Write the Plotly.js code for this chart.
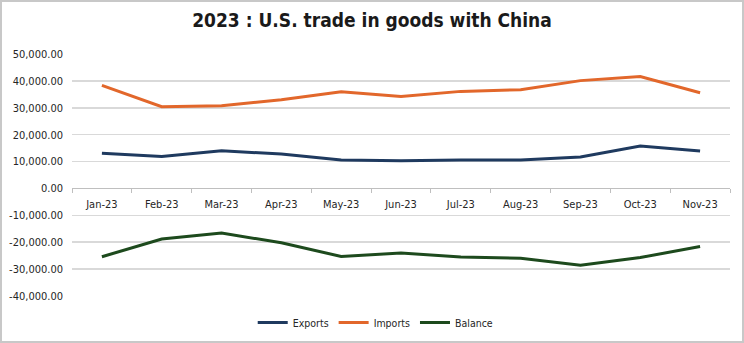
<!DOCTYPE html>
<html>
<head>
<meta charset="utf-8">
<script src="https://cdn.plot.ly/plotly-3.0.1.min.js"></script>
<style>
  html, body { margin: 0; padding: 0; background: #fff; }
  #wrap { position: relative; width: 744px; height: 343px; }
  #chart { width: 744px; height: 343px; }
  #frame { position: absolute; left: 0; top: 0; width: 744px; height: 343px; box-sizing: border-box;
           border: 2px solid #c8c8c8; pointer-events: none; }
</style>
</head>
<body>
<div id="wrap"><div id="chart"></div><div id="frame"></div></div>
<script>
const months = ["Jan-23","Feb-23","Mar-23","Apr-23","May-23","Jun-23","Jul-23","Aug-23","Sep-23","Oct-23","Nov-23"];
const exportsVals = [13100, 11900, 14000, 12800, 10600, 10300, 10600, 10600, 11700, 15800, 13900];
const importsVals = [38300, 30400, 30800, 33000, 36000, 34200, 36100, 36700, 40100, 41600, 35600];
const balanceVals = [-25400, -18800, -16600, -20200, -25300, -24000, -25500, -26000, -28600, -25700, -21600];
const yTickVals = [50000, 40000, 30000, 20000, 10000, 0, -10000, -20000, -30000, -40000];
const yTickText = ["50,000.00","40,000.00","30,000.00","20,000.00","10,000.00","0.00","-10,000.00","-20,000.00","-30,000.00","-40,000.00"];

const FONT = '"DejaVu Sans Condensed", "Liberation Sans Narrow", "Roboto", sans-serif';

const traces = [
  {x: months, y: exportsVals, name: "Exports", type: "scatter", mode: "lines",
   line: {color: "#1f3a5f", width: 3}},
  {x: months, y: importsVals, name: "Imports", type: "scatter", mode: "lines",
   line: {color: "#e2672b", width: 3}},
  {x: months, y: balanceVals, name: "Balance", type: "scatter", mode: "lines",
   line: {color: "#1d4a1d", width: 3}}
];

const layout = {
  width: 744, height: 343,
  margin: {l: 72, r: 14, t: 54, b: 47},
  paper_bgcolor: "#ffffff", plot_bgcolor: "#ffffff",
  title: {text: "<b>2023 : U.S. trade in goods with China</b>", x: 0.5, xanchor: "center",
          y: 0.94, yanchor: "middle", yref: "container",
          font: {family: FONT, size: 19, color: "#1a1a1a"}},
  xaxis: {type: "category", anchor: "free", position: 4/9,
          showgrid: false, showline: true, linecolor: "#bfbfbf", linewidth: 1,
          ticks: "outside", tickson: "boundaries", ticklen: 4, tickcolor: "#bfbfbf",
          ticklabelstandoff: 5,
          tickfont: {family: FONT, size: 11, color: "#262626"}, range: [-0.5, 10.5]},
  yaxis: {range: [-40000, 50000], tickvals: yTickVals, ticktext: yTickText,
          showgrid: true, gridcolor: "#d9d9d9", gridwidth: 1.5, zeroline: false,
          showline: false, ticks: "", ticklabelstandoff: 8,
          tickfont: {family: FONT, size: 11, color: "#262626"}},
  showlegend: true,
  legend: {orientation: "h", xref: "container", yref: "container", x: 0.505, xanchor: "center",
           y: 0.06, yanchor: "middle",
           font: {family: FONT, size: 10.5, color: "#262626"}, itemwidth: 30},
};

Plotly.newPlot("chart", traces, layout, {displayModeBar: false, staticPlot: true});
</script>
</body>
</html>
